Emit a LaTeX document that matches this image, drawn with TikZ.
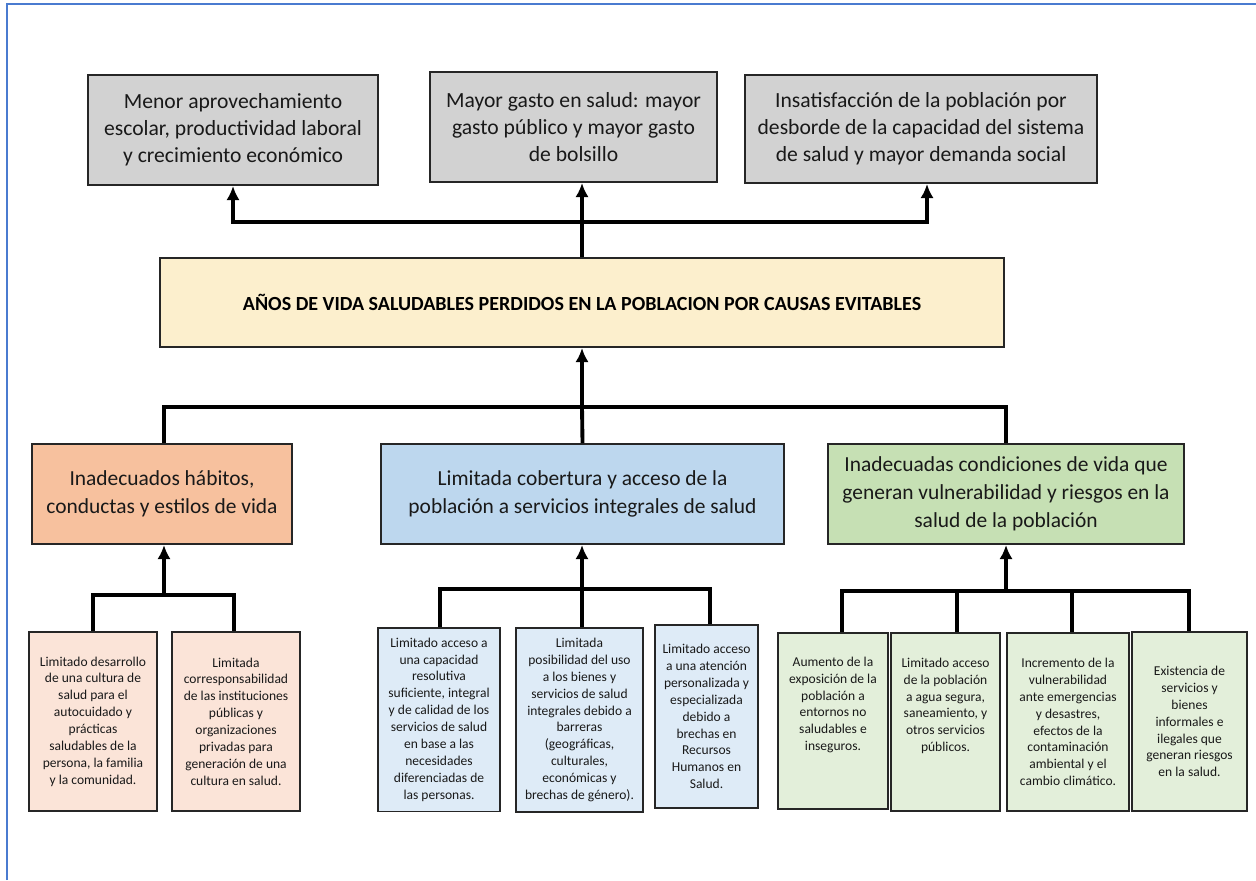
\documentclass[tikz,border=0pt]{standalone}
\usepackage{fontspec}
\setmainfont{Carlito}
\usepackage{tikz}
\usetikzlibrary{arrows.meta}

\definecolor{marco}{HTML}{4A7BD0}
\definecolor{gris}{HTML}{D2D2D2}
\definecolor{crema}{HTML}{FCEFCD}
\definecolor{salmon}{HTML}{F7C19E}
\definecolor{celeste}{HTML}{BDD7EE}
\definecolor{verde}{HTML}{C6E0B4}
\definecolor{rosa}{HTML}{FBE4D8}
\definecolor{celestec}{HTML}{DEEBF7}
\definecolor{verdec}{HTML}{E3EFDA}

\tikzset{
  caja/.style={draw=black!85, line width=1.1pt, align=center, inner sep=2pt},
  efecto/.style={caja, fill=gris, text=black!90, font=\fontsize{12.3}{15.3}\selectfont},
  problema/.style={caja, fill=crema, font=\bfseries\fontsize{11.4}{14}\selectfont},
  causa/.style={caja, text=black!90, font=\fontsize{12.2}{16}\selectfont},
  subcausa/.style={caja, text=black!90, font=\fontsize{7.7}{9.6}\selectfont},
  conector/.style={line width=2.2pt, line join=miter},
  flecha/.style={conector, -{Latex[length=8pt,width=7.5pt]}},
}

\begin{document}
\begin{tikzpicture}[x=0.02cm, y=-0.02cm]
    \useasboundingbox (0,0) rectangle (1256,880);
    \draw[marco, line width=1.2pt] (7,880) -- (7,4) -- (1256,4);

    % efectos
    \node[efecto, minimum width=5.8cm, minimum height=2.2cm] (t1) at (233,130)
        {Menor aprovechamiento\\escolar, productividad laboral\\y crecimiento económico};
    \node[efecto, minimum width=5.74cm, minimum height=2.2cm] (t2) at (573.5,127)
        {Mayor gasto en salud: mayor\\gasto público y mayor gasto\\de bolsillo};
    \node[efecto, minimum width=7.04cm, minimum height=2.16cm] (t3) at (921,129)
        {Insatisfacción de la población por\\desborde de la capacidad del sistema\\de salud y mayor demanda social};

    % problema central
    \node[problema, minimum width=16.88cm, minimum height=1.78cm] (main) at (582,302.5)
        {AÑOS DE VIDA SALUDABLES PERDIDOS EN LA POBLACION POR CAUSAS EVITABLES};

    % causas directas
    \node[causa, fill=salmon, minimum width=5.2cm, minimum height=2cm] (m1) at (162,494)
        {Inadecuados hábitos,\\conductas y estilos de vida};
    \node[causa, fill=celeste, minimum width=8.06cm, minimum height=2cm] (m2) at (582.5,494)
        {Limitada cobertura y acceso de la\\población a servicios integrales de salud};
    \node[causa, fill=verde, minimum width=7.12cm, minimum height=2cm] (m3) at (1006,494)
        {Inadecuadas condiciones de vida que\\generan vulnerabilidad y riesgos en la\\salud de la población};

    % causas indirectas
    \node[subcausa, fill=rosa, minimum width=2.56cm, minimum height=3.58cm] (a) at (93,721.5)
        {Limitado desarrollo\\de una cultura de\\salud para el\\autocuidado y\\prácticas\\saludables de la\\persona, la familia\\y la comunidad.};
    \node[subcausa, fill=rosa, minimum width=2.56cm, minimum height=3.58cm] (b) at (236,721.5)
        {Limitada\\corresponsabilidad\\de las instituciones\\públicas y\\organizaciones\\privadas para\\generación de una\\cultura en salud.};
    \node[subcausa, fill=celestec, minimum width=2.44cm, minimum height=3.68cm] (c) at (439,719.5)
        {Limitado acceso a\\una capacidad\\resolutiva\\suficiente, integral\\y de calidad de los\\servicios de salud\\en base a las\\necesidades\\diferenciadas de\\las personas.};
    \node[subcausa, fill=celestec, minimum width=2.54cm, minimum height=3.68cm] (d) at (579.5,720)
        {Limitada\\posibilidad del uso\\a los bienes y\\servicios de salud\\integrales debido a\\barreras\\(geográficas,\\culturales,\\económicas y\\brechas de género).};
    \node[subcausa, fill=celestec, minimum width=2.06cm, minimum height=3.66cm] (e) at (706.5,716.5)
        {Limitado acceso\\a una atención\\personalizada y\\especializada\\debido a\\brechas en\\Recursos\\Humanos en\\Salud.};
    \node[subcausa, fill=verdec, minimum width=2.2cm, minimum height=3.52cm] (f) at (833,721)
        {Aumento de la\\exposición de la\\población a\\entornos no\\saludables e\\inseguros.\\[10pt]};
    \node[subcausa, fill=verdec, minimum width=2.18cm, minimum height=3.56cm] (g) at (945.5,722)
        {Limitado acceso\\de la población\\a agua segura,\\saneamiento, y\\otros servicios\\públicos.\\[10pt]};
    \node[subcausa, fill=verdec, minimum width=2.44cm, minimum height=3.56cm] (h) at (1068,722)
        {Incremento de la\\vulnerabilidad\\ante emergencias\\y desastres,\\efectos de la\\contaminación\\ambiental y el\\cambio climático.};
    \node[subcausa, fill=verdec, minimum width=2.3cm, minimum height=3.58cm] (i) at (1189.5,721.5)
        {Existencia de\\servicios y\\bienes\\informales e\\ilegales que\\generan riesgos\\en la salud.};

    \coordinate (bT1) at (233,222);
    \coordinate (bT3) at (927,222);
    \coordinate (bM) at (582,407);
    \coordinate (bA) at (164,595);
    \coordinate (dA) at (93,595);
    \coordinate (dB) at (234,595);
    \coordinate (bC) at (582,589);
    \coordinate (dC) at (440,589);
    \coordinate (dE) at (710,589);
    \coordinate (bR) at (1006,591);
    \coordinate (dF) at (842,591);
    \coordinate (dG) at (957,591);
    \coordinate (dH) at (1072,591);
    \coordinate (dI) at (1189,591);

    % hacia los efectos
    \draw[flecha] (main.north) -- (main.north |- t2.south);
    \draw[conector, {Latex[length=8pt,width=7.5pt]}-{Latex[length=8pt,width=7.5pt]}]
        (bT1 |- t1.south) -- (bT1) -- (bT3) -- (bT3 |- t3.south);

    % causas directas
    \draw[flecha] (bM) -- (main.south);
    \draw[conector] (bA |- m1.north) -- (bA |- bM) -- (m3.north |- bM) -- (m3.north);
    \draw[conector] (bM) -- (m2.north);

    % causas indirectas
    \draw[flecha] (bA) -- (bA |- m1.south);
    \draw[conector] (dA |- a.north) -- (dA) -- (dB) -- (dB |- b.north);
    \draw[flecha] (bC) -- (bC |- m2.south);
    \draw[conector] (dC |- c.north) -- (dC) -- (dE) -- (dE |- e.north);
    \draw[conector] (bC) -- (bC |- d.north);
    \draw[flecha] (bR) -- (bR |- m3.south);
    \draw[conector] (dF |- f.north) -- (dF) -- (dI) -- (dI |- i.north);
    \draw[conector] (dG) -- (dG |- g.north);
    \draw[conector] (dH) -- (dH |- h.north);
\end{tikzpicture}
\end{document}
